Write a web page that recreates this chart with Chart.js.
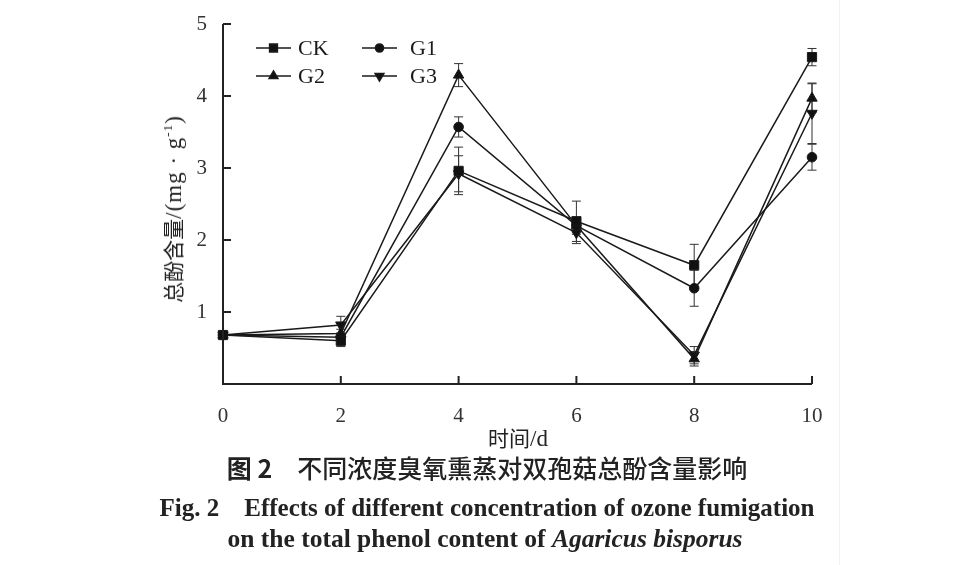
<!DOCTYPE html>
<html>
<head>
<meta charset="utf-8">
<script src="https://cdn.jsdelivr.net/npm/chart.js@4.4.0/dist/chart.umd.min.js"></script>
<style>
  body { margin: 0; background: #fff; width: 954px; height: 565px; position: relative; overflow: hidden; }
  #wrap { position: absolute; left: 0; top: 0; width: 954px; height: 440px; }
  .txt { position: absolute; white-space: nowrap; color: #222; }
  #ytitle { left: 172px; top: 209px; transform: translate(-50%, -50%) rotate(-90deg);
    font-family: "Noto Sans CJK SC", sans-serif; font-size: 21px; }
  #ytitle .en { font-family: "Liberation Serif", serif; font-size: 23px; letter-spacing: 1px; }
  #xtitle { left: 518px; top: 437px; transform: translate(-50%, -50%);
    font-family: "Noto Sans CJK SC", sans-serif; font-size: 21px; }
  #xtitle .en { font-family: "Liberation Serif", serif; font-size: 23px; }
  #cap1 { left: 487px; top: 467px; transform: translate(-50%, -50%);
    font-family: "Noto Sans CJK SC", sans-serif; font-size: 25px; font-weight: 500; }
  #cap2, #cap3 { transform: translate(-50%, -50%); font-family: "Liberation Serif", serif;
    font-weight: bold; }
  #cap2 { left: 487px; top: 507px; font-size: 25px; }
  #cap3 { left: 485px; top: 539px; font-size: 25.5px; }
  #edge { position: absolute; left: 839px; top: 0; width: 1px; height: 565px; background: #f2f2f2; }
</style>
</head>
<body>
<div id="wrap"><canvas id="chart"></canvas></div>
<div id="edge"></div>
<div class="txt" id="ytitle">总酚含量<span class="en">/(mg · g<sup style="font-size:13px">-1</sup>)</span></div>
<div class="txt" id="xtitle">时间<span class="en">/d</span></div>
<div class="txt" id="cap1"><b>图 2</b>　不同浓度臭氧熏蒸对双孢菇总酚含量影响</div>
<div class="txt" id="cap2">Fig. 2　Effects of different concentration of ozone fumigation</div>
<div class="txt" id="cap3">on the total phenol content of <i>Agaricus bisporus</i></div>
<script>
// days of storage
const days = [0, 2, 4, 6, 8, 10];
const seriesNames = ['CK', 'G1', 'G2', 'G3'];

// total phenol, mg/g
const ckValues = [0.68, 0.60, 2.96, 2.26, 1.65, 4.54];
const g1Values = [0.68, 0.65, 3.57, 2.20, 1.33, 3.15];
const g2Values = [0.68, 0.70, 4.29, 2.20, 0.35, 3.97];
const g3Values = [0.68, 0.82, 2.92, 2.10, 0.40, 3.76];

// error bar half-lengths
const ckErrors = [0.02, 0.08, 0.33, 0.28, 0.29, 0.12];
const g1Errors = [0.02, 0.06, 0.14, 0.10, 0.25, 0.18];
const g2Errors = [0.02, 0.06, 0.16, 0.12, 0.10, 0.20];
const g3Errors = [0.02, 0.12, 0.25, 0.15, 0.12, 0.42];

const yTicks = [1, 2, 3, 4, 5];
const xTicks = [0, 2, 4, 6, 8, 10];

const styles = [
    { pointStyle: 'rect', radius: 6.5, rotation: 0 },
    { pointStyle: 'circle', radius: 4.8, rotation: 0 },
    { pointStyle: 'triangle', radius: 6, rotation: 0 },
    { pointStyle: 'triangle', radius: 6, rotation: 180 }
];
const allValues = [ckValues, g1Values, g2Values, g3Values];
const allErrors = [ckErrors, g1Errors, g2Errors, g3Errors];

const datasets = seriesNames.map((name, i) => ({
    label: name,
    data: days.map((d, j) => ({ x: d, y: allValues[i][j] })),
    errors: allErrors[i],
    borderColor: '#1a1a1a',
    backgroundColor: '#111',
    borderWidth: 1.5,
    pointStyle: styles[i].pointStyle,
    pointRadius: styles[i].radius,
    pointRotation: styles[i].rotation,
    pointBorderWidth: 1,
    clip: false,
    tension: 0
}));

// error bars drawn before the points
const errorBars = {
    id: 'errorBars',
    beforeDatasetsDraw(chart) {
        const ctx = chart.ctx;
        const xs = chart.scales.x, ys = chart.scales.y;
        ctx.save();
        ctx.strokeStyle = '#333';
        ctx.lineWidth = 1;
        chart.data.datasets.forEach(ds => {
            ds.data.forEach((p, j) => {
                const e = ds.errors[j];
                const px = xs.getPixelForValue(p.x);
                const top = ys.getPixelForValue(p.y + e);
                const bot = ys.getPixelForValue(p.y - e);
                ctx.beginPath();
                ctx.moveTo(px, top); ctx.lineTo(px, bot);
                ctx.moveTo(px - 4.5, top); ctx.lineTo(px + 4.5, top);
                ctx.moveTo(px - 4.5, bot); ctx.lineTo(px + 4.5, bot);
                ctx.stroke();
            });
        });
        ctx.restore();
    }
};

// axis lines with inward ticks
const axesInward = {
    id: 'axesInward',
    afterDraw(chart) {
        const ctx = chart.ctx;
        const a = chart.chartArea;
        const xs = chart.scales.x, ys = chart.scales.y;
        ctx.save();
        ctx.strokeStyle = '#222';
        ctx.lineWidth = 2;
        ctx.beginPath();
        ctx.moveTo(a.left, a.top); ctx.lineTo(a.left, a.bottom); ctx.lineTo(a.right, a.bottom);
        yTicks.forEach(v => {
            const py = ys.getPixelForValue(v);
            ctx.moveTo(a.left, py); ctx.lineTo(a.left + 8, py);
        });
        xTicks.slice(1).forEach(v => {
            const px = xs.getPixelForValue(v);
            ctx.moveTo(px, a.bottom); ctx.lineTo(px, a.bottom - 8);
        });
        ctx.stroke();
        ctx.restore();
    }
};

// two-column legend inside the plot
const insideLegend = {
    id: 'insideLegend',
    afterDraw(chart) {
        const ctx = chart.ctx;
        const spots = [[256, 48], [362, 48], [256, 76], [362, 76]];
        ctx.save();
        ctx.font = '22px "Liberation Serif", serif';
        ctx.textBaseline = 'middle';
        chart.data.datasets.forEach((ds, i) => {
            const [lx, ly] = spots[i];
            ctx.strokeStyle = '#1a1a1a';
            ctx.fillStyle = '#111';
            ctx.lineWidth = 1.5;
            ctx.beginPath();
            ctx.moveTo(lx, ly); ctx.lineTo(lx + 35, ly);
            ctx.stroke();
            Chart.helpers.drawPoint(ctx, {
                pointStyle: ds.pointStyle, radius: ds.pointRadius * 0.85,
                rotation: ds.pointRotation, borderWidth: 1
            }, lx + 17.5, ly);
            ctx.fillStyle = '#1a1a1a';
            ctx.fillText(ds.label, lx + (i % 2 ? 48 : 42), ly + 1);
        });
        ctx.restore();
    }
};

new Chart(document.getElementById('chart'), {
    type: 'line',
    data: { datasets },
    plugins: [errorBars, axesInward, insideLegend],
    options: {
        responsive: true,
        maintainAspectRatio: false,
        animation: false,
        layout: { padding: { top: 24, right: 142, left: 0, bottom: 0 } },
        plugins: { legend: { display: false }, tooltip: { enabled: false } },
        scales: {
            x: {
                type: 'linear', min: 0, max: 10,
                afterFit(scale) { scale.height = 56; },
                grid: { display: false },
                border: { display: false },
                afterBuildTicks(scale) { scale.ticks = xTicks.map(v => ({ value: v })); },
                ticks: {
                    color: '#333', padding: 12,
                    font: { family: '"Liberation Serif", serif', size: 21 }
                }
            },
            y: {
                min: 0, max: 5,
                afterFit(scale) { scale.width = 223; },
                grid: { display: false },
                border: { display: false },
                afterBuildTicks(scale) { scale.ticks = yTicks.map(v => ({ value: v })); },
                ticks: {
                    color: '#333', padding: 8,
                    font: { family: '"Liberation Serif", serif', size: 21 }
                }
            }
        }
    }
});
</script>
</body>
</html>
